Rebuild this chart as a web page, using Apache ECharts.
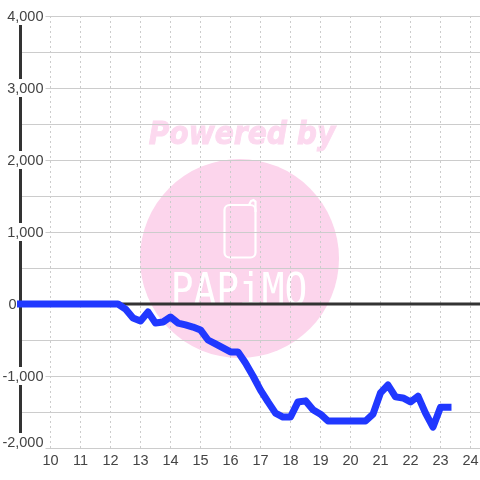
<!DOCTYPE html>
<html><head><meta charset="utf-8">
<style>html,body{margin:0;padding:0;background:#fff}#c{width:480px;height:480px}</style>
<script src="https://cdn.jsdelivr.net/npm/echarts@6/dist/echarts.min.js"></script>
</head><body><div id="c"></div>
<script>
const hours = [9,9.25,9.5,9.75,10,10.25,10.5,10.75,11,11.25,11.5,11.75,12,12.25,12.5,12.75,13,13.25,13.5,13.75,14,14.25,14.5,14.75,15,15.25,15.5,15.75,16,16.25,16.5,16.75,17,17.25,17.5,17.75,18,18.25,18.5,18.75,19,19.25,19.5,19.75,20,20.25,20.5,20.75,21,21.25,21.5,21.75,22,22.25,22.5,22.75,23,23.25];
const balance = [0,0,0,0,0,0,0,0,0,0,0,0,0,0,-70,-195,-235,-110,-265,-250,-180,-265,-290,-320,-360,-500,-555,-610,-665,-665,-820,-1000,-1195,-1360,-1515,-1570,-1570,-1360,-1345,-1470,-1530,-1625,-1625,-1625,-1625,-1625,-1625,-1530,-1235,-1125,-1290,-1305,-1360,-1280,-1515,-1710,-1435,-1435];
const xTickLabels = [10,11,12,13,14,15,16,17,18,19,20,21,22,23,24];
const xMin = 9, xMax = 24.3167, yMin = -2000, yMax = 4000;
const grey = '#cccccc', dark = '#333333', textCol = '#444444', pink = '#fcd5ec';
const labelFont = {color:textCol,fontSize:14.5,fontFamily:'"Liberation Sans"'};

const chart = echarts.init(document.getElementById('c'), null, {renderer:'canvas'});
chart.setOption({
  animation:false,
  backgroundColor:'#fff',
  grid:{left:20.5,right:0,top:16,bottom:32,containLabel:false,outerBoundsMode:'none'},
  graphic:{elements:[
    {type:'circle',z:-10,shape:{cx:239.5,cy:258.5,r:99.5},style:{fill:pink}},
    {type:'text',z:-10,x:242,y:136,scaleX:0.88,style:{text:'Powered by',x:0,y:0,align:'center',verticalAlign:'middle',font:'italic bold 32px "DejaVu Sans"',fill:'#fcd9ef',stroke:'#fcd9ef',lineWidth:1}},
    {type:'rect',z:-9,shape:{x:224.5,y:205,width:31,height:52.5,r:5},style:{fill:'none',stroke:'#fff',lineWidth:2.2}},
    {type:'polyline',z:-9,shape:{points:[[249,205],[251,201],[253.5,200],[255.5,201.5],[255.5,212]]},style:{fill:'none',stroke:'#fff',lineWidth:2.2}},
    {type:'text',z:-9,x:239,y:294,scaleX:0.86,style:{text:'PAPiMO',x:0,y:0,align:'center',verticalAlign:'middle',font:'44px "DejaVu Sans Mono"',fill:'#fff'}}
  ]},
  xAxis:{type:'value',min:xMin,max:xMax,interval:1,
    axisLine:{show:false},axisTick:{show:false},
    axisLabel:{...labelFont,margin:5,
      formatter:v=>xTickLabels.includes(v)?String(v):'',showMinLabel:true,showMaxLabel:true,hideOverlap:false},
    splitLine:{show:true,lineStyle:{color:grey,type:[2,3],width:1}}},
  yAxis:{type:'value',min:yMin,max:yMax,interval:1000,
    axisLine:{show:true,onZero:false,lineStyle:{color:dark,width:3}},axisTick:{show:false},
    axisLabel:{...labelFont,margin:-25,
      formatter:v=>v===0?'{z|0}':v===yMin?'{b|'+v.toLocaleString('en-US')+'}\n{e| }':'{b|'+v.toLocaleString('en-US')+'}',
      rich:{
        b:{...labelFont,backgroundColor:'#fff',padding:[2,2,0,0],height:16,lineHeight:16},
        e:{...labelFont,height:12,lineHeight:12},
        z:{...labelFont,padding:[2,29,0,0]}
      }},
    splitLine:{show:true,lineStyle:{color:grey,width:1}},
    minorTick:{show:false,splitNumber:2},
    minorSplitLine:{show:true,lineStyle:{color:grey,width:1}}},
  series:[
    {name:'zero',type:'line',z:1,silent:true,symbol:'none',data:[[xMin,0],[xMax,0]],lineStyle:{color:dark,width:3}},
    {name:'balance',type:'line',z:3,symbol:'none',clip:false,data:hours.map((h,i)=>[h,balance[i]]),
      lineStyle:{color:'#2038ff',width:7,cap:'square',join:'round'}}
  ]
});
</script></body></html>
